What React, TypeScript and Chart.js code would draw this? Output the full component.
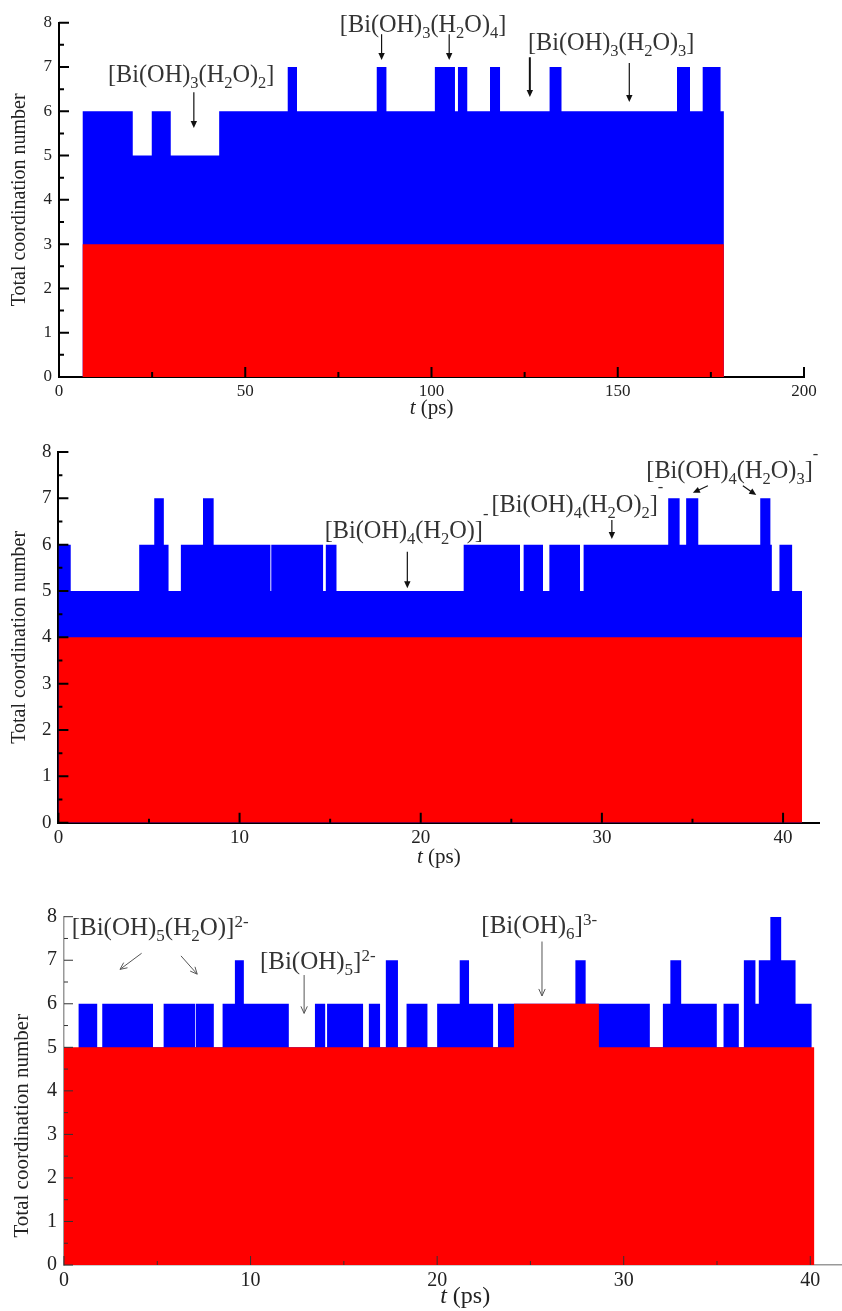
import React, { useEffect, useRef } from "react";
import { Chart, registerables } from "chart.js";

Chart.register(...registerables);

const SERIF = "'Liberation Serif', 'Times New Roman', serif";
Chart.defaults.font.family = SERIF;

// Step data: each value holds from its time until the next time in the list.
// ---------------- Panel 1 ----------------
const p1TotalTimes = [6.3, 19.8, 24.9, 30.0, 43.0, 61.4, 63.9, 85.3, 87.9, 100.9, 106.3, 107.1, 109.6, 115.7, 118.4, 131.7, 134.9, 165.9, 169.4, 172.8, 177.6, 178.5];
const p1TotalValues = [6, 5, 6, 5, 6, 7, 6, 7, 6, 7, 6, 7, 6, 7, 6, 7, 6, 7, 6, 7, 6, 6];
const p1OhTimes = [6.3, 178.5];
const p1OhValues = [3, 3];
const p1XTicks = [0, 50, 100, 150, 200];
const p1XMinor = [25, 75, 125, 175];

// ---------------- Panel 2 ----------------
const p2TotalTimes = [0, 0.68, 4.46, 5.29, 5.82, 6.08, 6.76, 7.98, 8.57, 11.70, 11.75, 14.61, 14.76, 15.35, 22.37, 25.48, 25.68, 26.75, 27.1, 28.79, 28.99, 33.66, 34.29, 34.65, 35.32, 38.74, 39.3, 39.38, 39.8, 40.5, 41.05];
const p2TotalValues = [6, 5, 6, 7, 6, 5, 6, 7, 6, 5, 6, 5, 6, 5, 6, 5, 6, 5, 6, 5, 6, 7, 6, 7, 6, 7, 6, 5, 6, 5, 5];
const p2OhTimes = [0, 41.05];
const p2OhValues = [4, 4];
const p2XTicks = [0, 10, 20, 30, 40];
const p2XMinor = [5, 15, 25, 35];

// ---------------- Panel 3 ----------------
const p3TotalTimes = [0.77, 1.78, 2.05, 4.77, 5.34, 7.02, 7.06, 8.03, 8.5, 9.16, 9.64, 12.05, 13.45, 14.0, 14.1, 16.03, 16.34, 16.94, 17.25, 17.9, 18.36, 19.48, 20.0, 21.21, 21.71, 23.0, 23.26, 27.41, 27.96, 31.4, 32.1, 32.5, 33.08, 34.99, 35.35, 36.17, 36.44, 37.06, 37.24, 37.86, 38.44, 39.21, 40.08];
const p3TotalValues = [6, 5, 6, 5, 6, 5, 6, 5, 6, 7, 6, 5, 6, 5, 6, 5, 6, 5, 7, 5, 6, 5, 6, 7, 6, 5, 6, 7, 6, 5, 6, 7, 6, 5, 6, 5, 7, 6, 7, 8, 7, 6, 6];
const p3OhTimes = [0, 24.12, 28.67, 40.22];
const p3OhValues = [5, 6, 5, 5];
const p3XTicks = [0, 10, 20, 30, 40];
const p3XMinor = [5, 15, 25, 35];

// shared y ticks
const yTicks = [0, 1, 2, 3, 4, 5, 6, 7, 8];
const yMinor = [0.5, 1.5, 2.5, 3.5, 4.5, 5.5, 6.5, 7.5];

// annotation texts (_{} subscript, ^{} superscript), positioned in data coords
const p1Labels = [
  { text: "[Bi(OH)_{3}(H_{2}O)_{2}]", t: 13.15, v: 6.66 },
  { text: "[Bi(OH)_{3}(H_{2}O)_{4}]", t: 75.4, v: 7.79 },
  { text: "[Bi(OH)_{3}(H_{2}O)_{3}]", t: 125.9, v: 7.38 },
];
const p1Arrows = [
  { t1: 36.2, v1: 6.43, t2: 36.2, v2: 5.62, w: 1.2 },
  { t1: 86.6, v1: 7.74, t2: 86.6, v2: 7.16, w: 1.2 },
  { t1: 104.75, v1: 7.74, t2: 104.75, v2: 7.16, w: 1.2 },
  { t1: 126.4, v1: 7.22, t2: 126.4, v2: 6.32, w: 2 },
  { t1: 153.1, v1: 7.09, t2: 153.1, v2: 6.21, w: 1.2 },
];
const p2Labels = [
  { text: "[Bi(OH)_{4}(H_{2}O)]^{-}", t: 14.7, v: 6.14 },
  { text: "[Bi(OH)_{4}(H_{2}O)_{2}]^{-}", t: 23.9, v: 6.71 },
  { text: "[Bi(OH)_{4}(H_{2}O)_{3}]^{-}", t: 32.45, v: 7.44 },
];
const p2Arrows = [
  { t1: 19.26, v1: 5.85, t2: 19.26, v2: 5.06, w: 1.2 },
  { t1: 30.55, v1: 6.53, t2: 30.55, v2: 6.12, w: 1.2 },
  { t1: 35.85, v1: 7.27, t2: 35.02, v2: 7.12, w: 1.2 },
  { t1: 37.78, v1: 7.27, t2: 38.52, v2: 7.07, w: 1.2 },
];
const p3Labels = [
  { text: "[Bi(OH)_{5}(H_{2}O)]^{2-}", t: 0.41, v: 7.58 },
  { text: "[Bi(OH)_{5}]^{2-}", t: 10.5, v: 6.79 },
  { text: "[Bi(OH)_{6}]^{3-}", t: 22.37, v: 7.62 },
];
const p3Arrows = [
  { t1: 4.16, v1: 7.16, t2: 3.0, v2: 6.79, w: 1 },
  { t1: 6.27, v1: 7.1, t2: 7.14, v2: 6.68, w: 1 },
  { t1: 12.87, v1: 6.66, t2: 12.87, v2: 5.78, w: 1 },
  { t1: 25.62, v1: 7.43, t2: 25.62, v2: 6.18, w: 1 },
];

const BLUE = "#0000ff";
const RED = "#ff0000";

type Lbl = { text: string; t: number; v: number };
type Arr = { t1: number; v1: number; t2: number; v2: number; w: number };
type Cfg = {
  top: number; height: number; padTop: number; padRight: number;
  yAxisWidth: number; xAxisHeight: number; xMax: number;
  xTicks: number[]; xMinor: number[];
  total: [number[], number[]]; oh: [number[], number[]];
  axisColor: string; axisWidth: number; tickColor: string; tickWidth: number;
  majorLen: number; minorLen: number;
  tickFont: number; xTickPad: number; yTickPad: number; tickLabelColor: string;
  yTitleX: number; yTitleV: number; yTitleSize: number;
  xTitleT: number; xTitleDy: number; xTitleSize: number;
  labelSize: number; labelColor: string; subDy: number; supDy: number;
  labels: Lbl[]; arrows: Arr[]; openHead: boolean; arrowColor: string;
};

function drawChem(ctx: CanvasRenderingContext2D, markup: string, x: number, y: number, size: number, subDy: number, supDy: number) {
  const re = /([_^])\{([^}]*)\}|([^_^]+)/g;
  let m: RegExpExecArray | null;
  let cx = x;
  ctx.textBaseline = "alphabetic";
  ctx.textAlign = "left";
  while ((m = re.exec(markup))) {
    if (m[3]) {
      ctx.font = `${size}px ${SERIF}`;
      ctx.fillText(m[3], cx, y);
      cx += ctx.measureText(m[3]).width;
    } else {
      const s = size * 0.68;
      ctx.font = `${s}px ${SERIF}`;
      const dy = m[1] === "_" ? size * subDy : -size * supDy;
      ctx.fillText(m[2], cx, y + dy);
      cx += ctx.measureText(m[2]).width;
    }
  }
}

function decorPlugin(cfg: Cfg) {
  return {
    id: "decor",
    afterDraw(chart: any) {
      const ctx: CanvasRenderingContext2D = chart.ctx;
      const xs = chart.scales.x;
      const ys = chart.scales.y;
      const ca = chart.chartArea;
      ctx.save();
      // inward tick marks
      ctx.strokeStyle = cfg.tickColor;
      ctx.lineWidth = cfg.tickWidth;
      ctx.beginPath();
      for (const v of yTicks) {
        const py = ys.getPixelForValue(v);
        ctx.moveTo(ca.left, py);
        ctx.lineTo(ca.left + cfg.majorLen, py);
      }
      for (const v of yMinor) {
        const py = ys.getPixelForValue(v);
        ctx.moveTo(ca.left, py);
        ctx.lineTo(ca.left + cfg.minorLen, py);
      }
      for (const v of cfg.xTicks) {
        const px = xs.getPixelForValue(v);
        ctx.moveTo(px, ca.bottom);
        ctx.lineTo(px, ca.bottom - cfg.majorLen);
      }
      for (const v of cfg.xMinor) {
        const px = xs.getPixelForValue(v);
        ctx.moveTo(px, ca.bottom);
        ctx.lineTo(px, ca.bottom - cfg.minorLen);
      }
      ctx.stroke();

      // y title
      ctx.fillStyle = cfg.tickLabelColor;
      ctx.save();
      ctx.translate(cfg.yTitleX, ys.getPixelForValue(cfg.yTitleV));
      ctx.rotate(-Math.PI / 2);
      ctx.font = `${cfg.yTitleSize}px ${SERIF}`;
      ctx.textAlign = "center";
      ctx.textBaseline = "middle";
      ctx.fillText("Total coordination number", 0, 0);
      ctx.restore();

      // x title: italic t + (ps)
      ctx.textBaseline = "middle";
      ctx.textAlign = "left";
      const it = `italic ${cfg.xTitleSize}px ${SERIF}`;
      const rg = `${cfg.xTitleSize}px ${SERIF}`;
      ctx.font = it;
      const w1 = ctx.measureText("t").width;
      ctx.font = rg;
      const w2 = ctx.measureText(" (ps)").width;
      const cx = xs.getPixelForValue(cfg.xTitleT) - (w1 + w2) / 2;
      const cy = ca.bottom + cfg.xTitleDy;
      ctx.font = it;
      ctx.fillText("t", cx, cy);
      ctx.font = rg;
      ctx.fillText(" (ps)", cx + w1, cy);

      // annotation labels
      ctx.fillStyle = cfg.labelColor;
      for (const l of cfg.labels) {
        drawChem(ctx, l.text, xs.getPixelForValue(l.t), ys.getPixelForValue(l.v), cfg.labelSize, cfg.subDy, cfg.supDy);
      }
      // arrows
      ctx.strokeStyle = cfg.arrowColor;
      ctx.fillStyle = cfg.arrowColor;
      for (const a of cfg.arrows) {
        const x1 = xs.getPixelForValue(a.t1), y1 = ys.getPixelForValue(a.v1);
        const x2 = xs.getPixelForValue(a.t2), y2 = ys.getPixelForValue(a.v2);
        const ang = Math.atan2(y2 - y1, x2 - x1);
        const hl = 7, hw = 3.2;
        ctx.lineWidth = a.w;
        ctx.beginPath();
        ctx.moveTo(x1, y1);
        ctx.lineTo(cfg.openHead ? x2 : x2 - Math.cos(ang) * hl * 0.6, cfg.openHead ? y2 : y2 - Math.sin(ang) * hl * 0.6);
        ctx.stroke();
        const bx = x2 - Math.cos(ang) * hl, by = y2 - Math.sin(ang) * hl;
        const nx = -Math.sin(ang) * hw, ny = Math.cos(ang) * hw;
        ctx.beginPath();
        if (cfg.openHead) {
          ctx.moveTo(bx + nx, by + ny);
          ctx.lineTo(x2, y2);
          ctx.lineTo(bx - nx, by - ny);
          ctx.stroke();
        } else {
          ctx.moveTo(x2, y2);
          ctx.lineTo(bx + nx, by + ny);
          ctx.lineTo(bx - nx, by - ny);
          ctx.closePath();
          ctx.fill();
        }
      }
      ctx.restore();
    },
  };
}

function Panel({ cfg }: { cfg: Cfg }) {
  const ref = useRef<HTMLCanvasElement>(null);
  useEffect(() => {
    const canvas = ref.current!;
    const pts = (ts: number[], vs: number[]) => ts.map((t, i) => ({ x: t, y: vs[i] }));
    const chart = new Chart(canvas, {
      type: "line",
      data: {
        datasets: [
          {
            label: "OH",
            data: pts(cfg.oh[0], cfg.oh[1]),
            stepped: "before",
            fill: "origin",
            backgroundColor: RED,
            borderColor: "rgba(0,0,0,0)",
            borderWidth: 0,
            pointRadius: 0,
            order: 0,
          },
          {
            label: "Total",
            data: pts(cfg.total[0], cfg.total[1]),
            stepped: "before",
            fill: "origin",
            backgroundColor: BLUE,
            borderColor: "rgba(0,0,0,0)",
            borderWidth: 0,
            pointRadius: 0,
            order: 1,
          },
        ],
      } as any,
      options: {
        animation: false,
        responsive: false,
        devicePixelRatio: 1,
        events: [],
        layout: { padding: { left: 0, top: cfg.padTop, right: cfg.padRight, bottom: 0 } },
        plugins: { legend: { display: false }, tooltip: { enabled: false } },
        scales: {
          x: {
            type: "linear",
            min: 0,
            max: cfg.xMax,
            afterBuildTicks: (s: any) => { s.ticks = cfg.xTicks.map((v) => ({ value: v })); },
            afterFit: (s: any) => { s.height = cfg.xAxisHeight; },
            grid: { display: false, drawTicks: false },
            border: { display: true, color: cfg.axisColor, width: cfg.axisWidth },
            ticks: { padding: cfg.xTickPad, color: cfg.tickLabelColor, font: { family: SERIF, size: cfg.tickFont }, maxRotation: 0, autoSkip: false },
          },
          y: {
            type: "linear",
            min: 0,
            max: 8,
            afterBuildTicks: (s: any) => { s.ticks = yTicks.map((v) => ({ value: v })); },
            afterFit: (s: any) => { s.width = cfg.yAxisWidth; },
            grid: { display: false, drawTicks: false },
            border: { display: true, color: cfg.axisColor, width: cfg.axisWidth },
            ticks: { padding: cfg.yTickPad, color: cfg.tickLabelColor, font: { family: SERIF, size: cfg.tickFont }, autoSkip: false },
          },
        },
      } as any,
      plugins: [decorPlugin(cfg)],
    });
    return () => chart.destroy();
  }, [cfg]);
  return (
    <canvas
      ref={ref}
      width={842}
      height={cfg.height}
      style={{ position: "absolute", left: 0, top: cfg.top, width: 842, height: cfg.height }}
    />
  );
}

const cfg1: Cfg = {
  top: 0, height: 430, padTop: 22.7, padRight: 38, yAxisWidth: 59, xAxisHeight: 53, xMax: 200,
  xTicks: p1XTicks, xMinor: p1XMinor, total: [p1TotalTimes, p1TotalValues], oh: [p1OhTimes, p1OhValues],
  axisColor: "#000", axisWidth: 2, tickColor: "#000", tickWidth: 2, majorLen: 10, minorLen: 5,
  tickFont: 17, xTickPad: 4, yTickPad: 7, tickLabelColor: "#222",
  yTitleX: 20, yTitleV: 4, yTitleSize: 20, xTitleT: 100, xTitleDy: 31, xTitleSize: 21,
  labelSize: 24.3, labelColor: "#333", subDy: 0.24, supDy: 0.6,
  labels: p1Labels, arrows: p1Arrows, openHead: false, arrowColor: "#111",
};
const cfg2: Cfg = {
  top: 430, height: 440, padTop: 22, padRight: 22.7, yAxisWidth: 58.4, xAxisHeight: 47.3, xMax: 42,
  xTicks: p2XTicks, xMinor: p2XMinor, total: [p2TotalTimes, p2TotalValues], oh: [p2OhTimes, p2OhValues],
  axisColor: "#000", axisWidth: 2, tickColor: "#000", tickWidth: 2, majorLen: 10, minorLen: 4,
  tickFont: 19, xTickPad: 4, yTickPad: 7, tickLabelColor: "#222",
  yTitleX: 20, yTitleV: 4, yTitleSize: 20, xTitleT: 21, xTitleDy: 35, xTitleSize: 21,
  labelSize: 24.3, labelColor: "#333", subDy: 0.24, supDy: 0.8,
  labels: p2Labels, arrows: p2Arrows, openHead: false, arrowColor: "#111",
};
const cfg3: Cfg = {
  top: 870, height: 441, padTop: 46.7, padRight: 0, yAxisWidth: 64, xAxisHeight: 46, xMax: 41.7,
  xTicks: p3XTicks, xMinor: p3XMinor, total: [p3TotalTimes, p3TotalValues], oh: [p3OhTimes, p3OhValues],
  axisColor: "#999", axisWidth: 1.5, tickColor: "#333", tickWidth: 1, majorLen: 9, minorLen: 4,
  tickFont: 20, xTickPad: 4, yTickPad: 7, tickLabelColor: "#222",
  yTitleX: 22, yTitleV: 3.2, yTitleSize: 21, xTitleT: 21.5, xTitleDy: 32, xTitleSize: 24,
  labelSize: 25, labelColor: "#333", subDy: 0.24, supDy: 0.32,
  labels: p3Labels, arrows: p3Arrows, openHead: true, arrowColor: "#555",
};

export default function App() {
  return (
    <div style={{ position: "absolute", left: 0, top: 0, width: 842, height: 1311, background: "#fff" }}>
      <Panel cfg={cfg1} />
      <Panel cfg={cfg2} />
      <Panel cfg={cfg3} />
    </div>
  );
}
